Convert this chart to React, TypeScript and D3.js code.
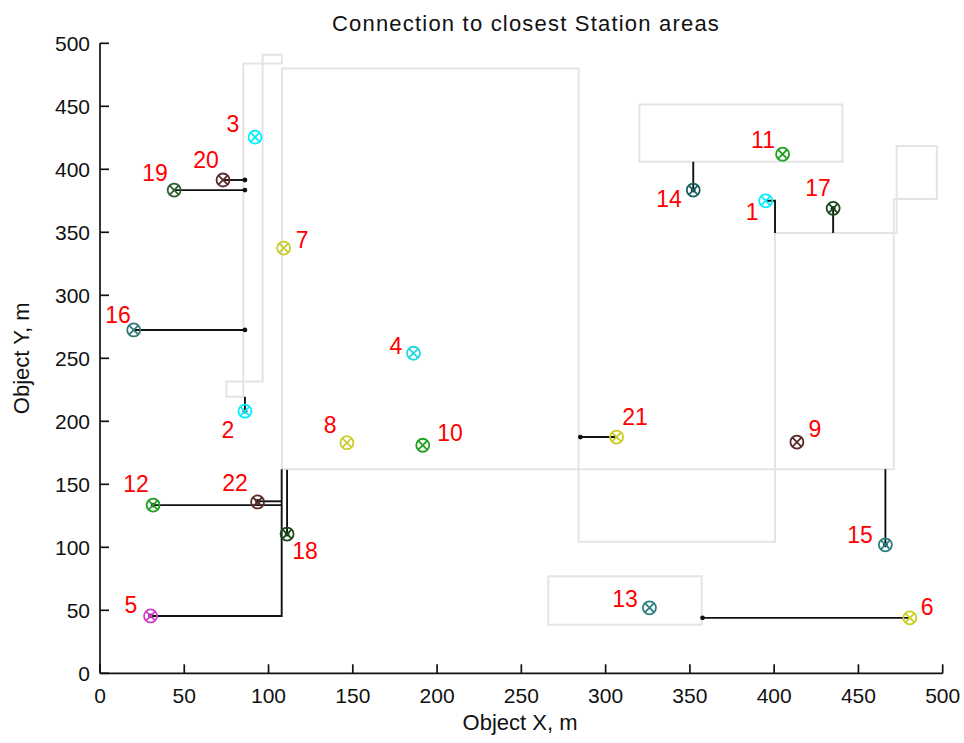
import React from 'react';
import * as d3 from 'd3';

// objects (numbered points) and their colours
const objIds = [1, 2, 3, 4, 5, 6, 7, 8, 9, 10, 11, 12, 13, 14, 15, 16, 17, 18, 19, 20, 21, 22];
const objX = [395, 86, 92, 186, 30, 480.5, 109, 146.5, 413.5, 191.5, 405, 31.5, 326, 352, 466, 20, 435, 111, 44, 73, 306.5, 93.5];
const objY = [375, 208, 425.5, 254, 45.5, 44, 337.5, 183, 183.5, 181, 412, 133.5, 52, 383.5, 102, 272.5, 369, 110.5, 383.5, 391.5, 187.5, 136];
const objColor = [
  '#00f0ff', '#00f0ff', '#00f0ff', '#20d8e0', '#d040d0', '#cccc20', '#cccc30', '#cccc30',
  '#5a2a2a', '#20a020', '#20a020', '#20a020', '#2a8080', '#1a6060', '#2a8080', '#337777',
  '#1a4a1a', '#1a4a1a', '#2e5e2e', '#5a2a2a', '#cccc20', '#5a2a2a',
];
// where each number label sits (data units)
const labelX = [386.9, 75.9, 78.9, 175.6, 18.4, 490.7, 119.9, 136.5, 424.2, 207.7, 393.4, 21.4, 311.5, 337.6, 450.9, 10.7, 426, 121.6, 32.6, 62.9, 317.4, 80.1];
const labelY = [366.3, 193.1, 436, 259.8, 54.2, 52.6, 343.9, 197.1, 193.9, 190.7, 423.3, 150.2, 59, 376.4, 109.8, 284.4, 385.2, 97.1, 397.1, 407.4, 203.4, 151];

// station areas (outlines)
const areas: [number, number][][] = [
  [[75, 231.5], [96.5, 231.5], [96.5, 491], [108, 491], [108, 484], [85, 484], [85, 219.5], [75, 219.5]],
  [[108, 162], [284, 162], [284, 480], [108, 480]],
  [[284, 104.5], [400.5, 104.5], [400.5, 162], [284, 162]],
  [[400.5, 162], [400.5, 349.5], [472.7, 349.5], [472.7, 418.5], [496.5, 418.5], [496.5, 376.5], [471, 376.5], [471, 162]],
  [[320, 406], [440.5, 406], [440.5, 451.5], [320, 451.5]],
  [[266, 38.5], [357, 38.5], [357, 77], [266, 77]],
];

// connections to closest area; the dot goes on the last point
const links: [number, number][][] = [
  [[395, 375], [400.5, 375], [400.5, 349.5]],
  [[86, 219.5], [86, 208]],
  [[107.8, 162], [107.8, 45.5], [30, 45.5]],
  [[480.5, 44], [357.5, 44]],
  [[107.8, 133.5], [31.5, 133.5]],
  [[352, 406], [352, 383.5]],
  [[466, 162], [466, 102]],
  [[20, 272.5], [86, 272.5]],
  [[435, 349.5], [435, 369]],
  [[111, 161.5], [111, 110.5]],
  [[44, 383.5], [86, 383.5]],
  [[73, 391.5], [86, 391.5]],
  [[306.5, 187.5], [285, 187.5]],
  [[107.8, 136.5], [93.5, 136.5]],
];
const linkDot = [false, true, true, true, true, true, true, true, true, true, true, true, true, true];

const xTicks = [0, 50, 100, 150, 200, 250, 300, 350, 400, 450, 500];
const yTicks = [0, 50, 100, 150, 200, 250, 300, 350, 400, 450, 500];

const W = 964;
const H = 743;
const left = 100;
const right = 942.7;
const top = 43.3;
const bottom = 673.3;
const font = '"Liberation Sans", Arial, sans-serif';

export default function App() {
  const x = d3.scaleLinear().domain([0, 500]).range([left, right]);
  const y = d3.scaleLinear().domain([0, 500]).range([bottom, top]);

  const line = d3.line<[number, number]>()
    .x(d => x(d[0]))
    .y(d => y(d[1]));

  const r = 6.5;
  const k = r * 0.72;

  return (
    <svg width={W} height={H} style={{ position: 'absolute', left: 0, top: 0, background: '#fff' }}>
      <rect width={W} height={H} fill="#fff" />

      {/* station areas */}
      {areas.map((a, i) => (
        <path key={'a' + i} d={line(a) + 'Z'} fill="none" stroke="#e4e4e4" strokeWidth={2} />
      ))}

      {/* connection lines */}
      {links.map((p, i) => (
        <g key={'l' + i}>
          <path d={line(p) || ''} fill="none" stroke="#111" strokeWidth={1.9} />
          {linkDot[i] && (
            <circle cx={x(p[p.length - 1][0])} cy={y(p[p.length - 1][1])} r={2.4} fill="#111" />
          )}
        </g>
      ))}

      {/* objects */}
      {objIds.map((id, i) => {
        const cx = x(objX[i]);
        const cy = y(objY[i]);
        return (
          <g key={'o' + id} stroke={objColor[i]} strokeWidth={1.8} fill="none">
            <circle cx={cx} cy={cy} r={r} />
            <line x1={cx - k} y1={cy - k} x2={cx + k} y2={cy + k} />
            <line x1={cx - k} y1={cy + k} x2={cx + k} y2={cy - k} />
          </g>
        );
      })}

      {/* number labels */}
      {objIds.map((id, i) => (
        <text key={'t' + id} x={x(labelX[i])} y={y(labelY[i])} dy="0.36em" textAnchor="middle"
          fill="#ff0000" fontFamily={font} fontSize={23}>{id}</text>
      ))}

      {/* axes */}
      <g stroke="#111" strokeWidth={1.7} fill="none">
        <line x1={left} y1={bottom} x2={right} y2={bottom} />
        <line x1={left} y1={bottom} x2={left} y2={top} />
        {xTicks.map(t => (
          <line key={'xt' + t} x1={x(t)} x2={x(t)} y1={bottom} y2={bottom - 9} />
        ))}
        {yTicks.map(t => (
          <line key={'yt' + t} x1={left} x2={left + 9} y1={y(t)} y2={y(t)} />
        ))}
      </g>
      {xTicks.map(t => (
        <text key={'xl' + t} x={x(t)} y={bottom + 30} textAnchor="middle" fill="#111"
          fontFamily={font} fontSize={21}>{t}</text>
      ))}
      {yTicks.map(t => (
        <text key={'yl' + t} x={left - 10} y={y(t)} dy="0.36em" textAnchor="end" fill="#111"
          fontFamily={font} fontSize={21}>{t}</text>
      ))}

      <text x={526} y={31} textAnchor="middle" fill="#111" fontFamily={font} fontSize={22}
        letterSpacing={1.2}>Connection to closest Station areas</text>
      <text x={520} y={730} textAnchor="middle" fill="#111" fontFamily={font} fontSize={22}>Object X, m</text>
      <text transform={`translate(29, ${(top + bottom) / 2}) rotate(-90)`} textAnchor="middle" fill="#111"
        fontFamily={font} fontSize={22}>Object Y, m</text>
    </svg>
  );
}
